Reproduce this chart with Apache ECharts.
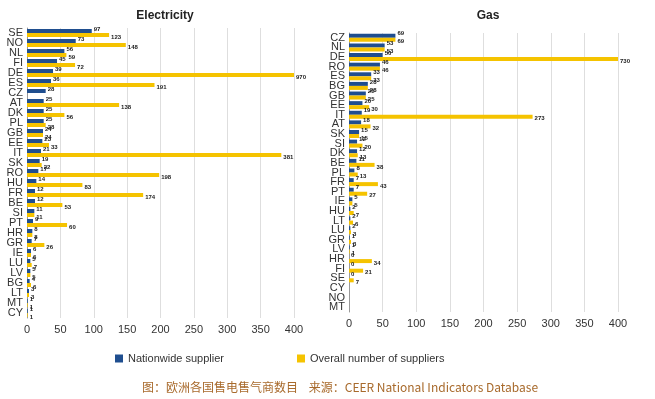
<!DOCTYPE html>
<html>
<head>
<meta charset="utf-8">
<script src="https://cdn.jsdelivr.net/npm/echarts@6/dist/echarts.min.js"></script>
<style>
  html, body { margin: 0; padding: 0; background: #fff; }
  #chart { width: 655px; height: 399px; }
</style>
</head>
<body>
<div id="chart"></div>
<script>
// electricity
var elecCountries = ["SE", "NO", "NL", "FI", "DE", "ES", "CZ", "AT", "DK", "PL", "GB", "EE", "IT", "SK", "RO",
  "HU", "FR", "BE", "SI", "PT", "HR", "GR", "IE", "LU", "LV", "BG", "LT", "MT", "CY"];
var elecNationwide = [97, 73, 56, 45, 39, 36, 28, 25, 25, 25, 24, 23, 21, 19, 17,
  14, 12, 12, 11, 9, 8, 7, 6, 5, 5, 4, 3, 1, 1];
var elecOverall = [123, 148, 59, 72, 970, 191, null, 138, 56, 28, 24, 33, 381, 22, 198,
  83, 174, 53, 11, 60, 8, 26, 6, 7, 5, 6, 3, 1, 1];

// gas
var gasCountries = ["CZ", "NL", "DE", "RO", "ES", "BG", "GB", "EE", "IT", "AT", "SK", "SI", "DK", "BE", "PL",
  "FR", "PT", "IE", "HU", "LT", "LU", "GR", "LV", "HR", "FI", "SE", "CY", "NO", "MT"];
var gasNationwide = [69, 53, 50, 46, 33, 28, 25, 20, 19, 18, 15, 12, 12, 11, 8,
  7, 7, 5, 2, 2, 2, 1, 1, 0, 0, 0, null, null, null];
var gasOverall = [69, 53, 730, 46, 33, 28, 25, 30, 273, 32, 15, 20, 13, 38, 13,
  43, 27, 5, 7, 6, 3, 3, 1, 34, 21, 7, null, null, null];

var xTicks = [0, 50, 100, 150, 200, 250, 300, 350, 400];

var NAVY = "#1f4e8f";
var YELLOW = "#f5c300";

function xAxisFor(idx) {
  return {
    gridIndex: idx,
    type: "value",
    min: xTicks[0],
    max: xTicks[xTicks.length - 1],
    interval: xTicks[1] - xTicks[0],
    axisLine: { show: false },
    axisTick: { show: false },
    axisLabel: { color: "#333", fontSize: 11, fontFamily: "Arial, Liberation Sans", margin: 6 },
    splitLine: { lineStyle: { color: "#dedede" } }
  };
}

function yAxisFor(idx, cats) {
  return {
    gridIndex: idx,
    type: "category",
    inverse: true,
    data: cats,
    axisLine: { lineStyle: { color: "#999" } },
    axisTick: { show: false },
    axisLabel: { interval: 0, color: "#333", fontSize: 11, fontFamily: "Arial, Liberation Sans", margin: 4 }
  };
}

function barSeries(name, idx, data, color, dy) {
  return {
    name: name,
    type: "bar",
    xAxisIndex: idx,
    yAxisIndex: idx,
    data: data,
    barWidth: 4,
    barGap: "0%",
    clip: true,
    itemStyle: { color: color },
    label: {
      show: true,
      position: "right",
      distance: 2,
      offset: [0, dy],
      fontSize: 6,
      fontWeight: "bold",
      color: "#222",
      fontFamily: "Arial, Liberation Sans"
    },
    animation: false
  };
}

var option = {
  backgroundColor: "#fff",
  title: [
    { text: "Electricity", left: 160, top: 5, textAlign: "center",
      textStyle: { fontSize: 12, fontWeight: "bold", color: "#222", fontFamily: "Arial, Liberation Sans" } },
    { text: "Gas", left: 483, top: 5, textAlign: "center",
      textStyle: { fontSize: 12, fontWeight: "bold", color: "#222", fontFamily: "Arial, Liberation Sans" } }
  ],
  grid: [
    { left: 27, top: 28, width: 267, height: 290 },
    { left: 349, top: 33, width: 269, height: 279 }
  ],
  legend: {
    left: 110,
    top: 348,
    itemWidth: 8,
    itemHeight: 8,
    itemGap: 73,
    icon: "rect",
    textStyle: { color: "#333", fontSize: 11, fontFamily: "Arial, Liberation Sans" },
    data: ["Nationwide supplier", "Overall number of suppliers"]
  },
  xAxis: [xAxisFor(0), xAxisFor(1)],
  yAxis: [yAxisFor(0, elecCountries), yAxisFor(1, gasCountries)],
  series: [
    barSeries("Nationwide supplier", 0, elecNationwide, NAVY, -2),
    barSeries("Overall number of suppliers", 0, elecOverall, YELLOW, 2),
    barSeries("Nationwide supplier", 1, gasNationwide, NAVY, -2),
    barSeries("Overall number of suppliers", 1, gasOverall, YELLOW, 2)
  ],
  graphic: [
    {
      type: "text",
      left: 142,
      top: 381,
      style: {
        text: "图：欧洲各国售电售气商数目    来源：CEER National Indicators Database",
        fill: "#a86a2c",
        fontSize: 12,
        fontFamily: "Noto Sans CJK SC, sans-serif"
      }
    }
  ]
};

var myChart = echarts.init(document.getElementById("chart"));
myChart.setOption(option);
</script>
</body>
</html>
